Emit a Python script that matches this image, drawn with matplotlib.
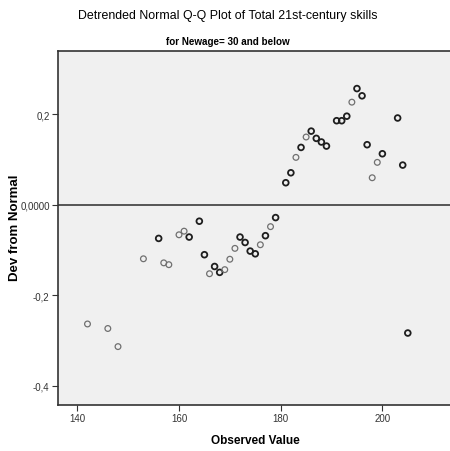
import matplotlib
matplotlib.use("Agg")
import matplotlib.pyplot as plt

observed = [142, 146, 148, 153, 156, 157, 158, 160, 161, 162, 164, 165, 166, 167, 168, 169,
            170, 171, 172, 173, 174, 175, 176, 177, 178, 179, 181, 182, 183, 184, 185, 186,
            187, 188, 189, 191, 192, 193, 194, 195, 196, 197, 198, 199, 200, 203, 204, 205]
dev = [-0.263, -0.273, -0.313, -0.119, -0.074, -0.128, -0.132, -0.066, -0.058, -0.071,
       -0.036, -0.110, -0.152, -0.136, -0.149, -0.143, -0.120, -0.096, -0.071, -0.083,
       -0.102, -0.108, -0.088, -0.068, -0.048, -0.028, 0.049, 0.071, 0.105, 0.127,
       0.150, 0.163, 0.147, 0.139, 0.130, 0.186, 0.186, 0.196, 0.227, 0.257, 0.241,
       0.133, 0.060, 0.094, 0.113, 0.192, 0.088, -0.283]
# darker markers = more than one case at that value
dark = [0, 0, 0, 0, 1, 0, 0, 0, 0, 1, 1, 1, 0, 1, 1, 0,
        0, 0, 1, 1, 1, 1, 0, 1, 0, 1, 1, 1, 0, 1, 0, 1,
        1, 1, 1, 1, 1, 1, 0, 1, 1, 1, 0, 0, 1, 1, 1, 1]

xticks = [140, 160, 180, 200]
yticks = [-0.4, -0.2, 0.0, 0.2]
ytick_labels = ["-0,4", "-0,2", "0,0000", "0,2"]

font = "Liberation Sans"

fig = plt.figure(figsize=(4.5, 4.52), dpi=100)
ax = fig.add_axes([58 / 450, 46 / 452, 392 / 450, 354 / 452])
ax.set_facecolor("#f0f0f0")

ax.axhline(0, color="#555555", lw=1.4, zorder=1)

edge = ["#1e1e1e" if d else "#707070" for d in dark]
widths = [1.3 if d else 0.9 for d in dark]
ax.scatter(observed, dev, s=17, facecolors="none", edgecolors=edge, linewidths=widths, zorder=3)

ax.set_xlim(136.2, 213.3)
ax.set_ylim(-0.442, 0.340)
ax.set_xticks(xticks)
ax.set_xticklabels([str(t) for t in xticks])
ax.set_yticks(yticks)
ax.set_yticklabels(ytick_labels)
ax.tick_params(direction="out", length=4, width=0.8, colors="#333333", labelsize=7, pad=2)
for lab in ax.get_xticklabels() + ax.get_yticklabels():
    lab.set_family(font)
    lab.set_color("#333333")

for s in ["left", "bottom", "top"]:
    ax.spines[s].set_color("#333333")
    ax.spines[s].set_linewidth(1.2)
ax.spines["right"].set_visible(False)

# axis titles placed by hand like the SPSS layout
fig.text(255 / 450, 1 - 441 / 452, "Observed Value", ha="center", va="center",
         family=font, fontweight="bold", fontsize=8.5)
fig.text(15 / 450, 1 - 228 / 452, "Dev from Normal", ha="center", va="center",
         rotation=90, family=font, fontweight="bold", fontsize=9.5)

fig.text(228 / 450, 1 - 16 / 452, "Detrended Normal Q-Q Plot of Total 21st-century skills",
         ha="center", va="center", family=font, fontsize=8.9)
fig.text(228 / 450, 1 - 42 / 452, "for Newage= 30 and below",
         ha="center", va="center", family=font, fontweight="bold", fontsize=7.1)

fig.savefig("out.png", dpi=100)
